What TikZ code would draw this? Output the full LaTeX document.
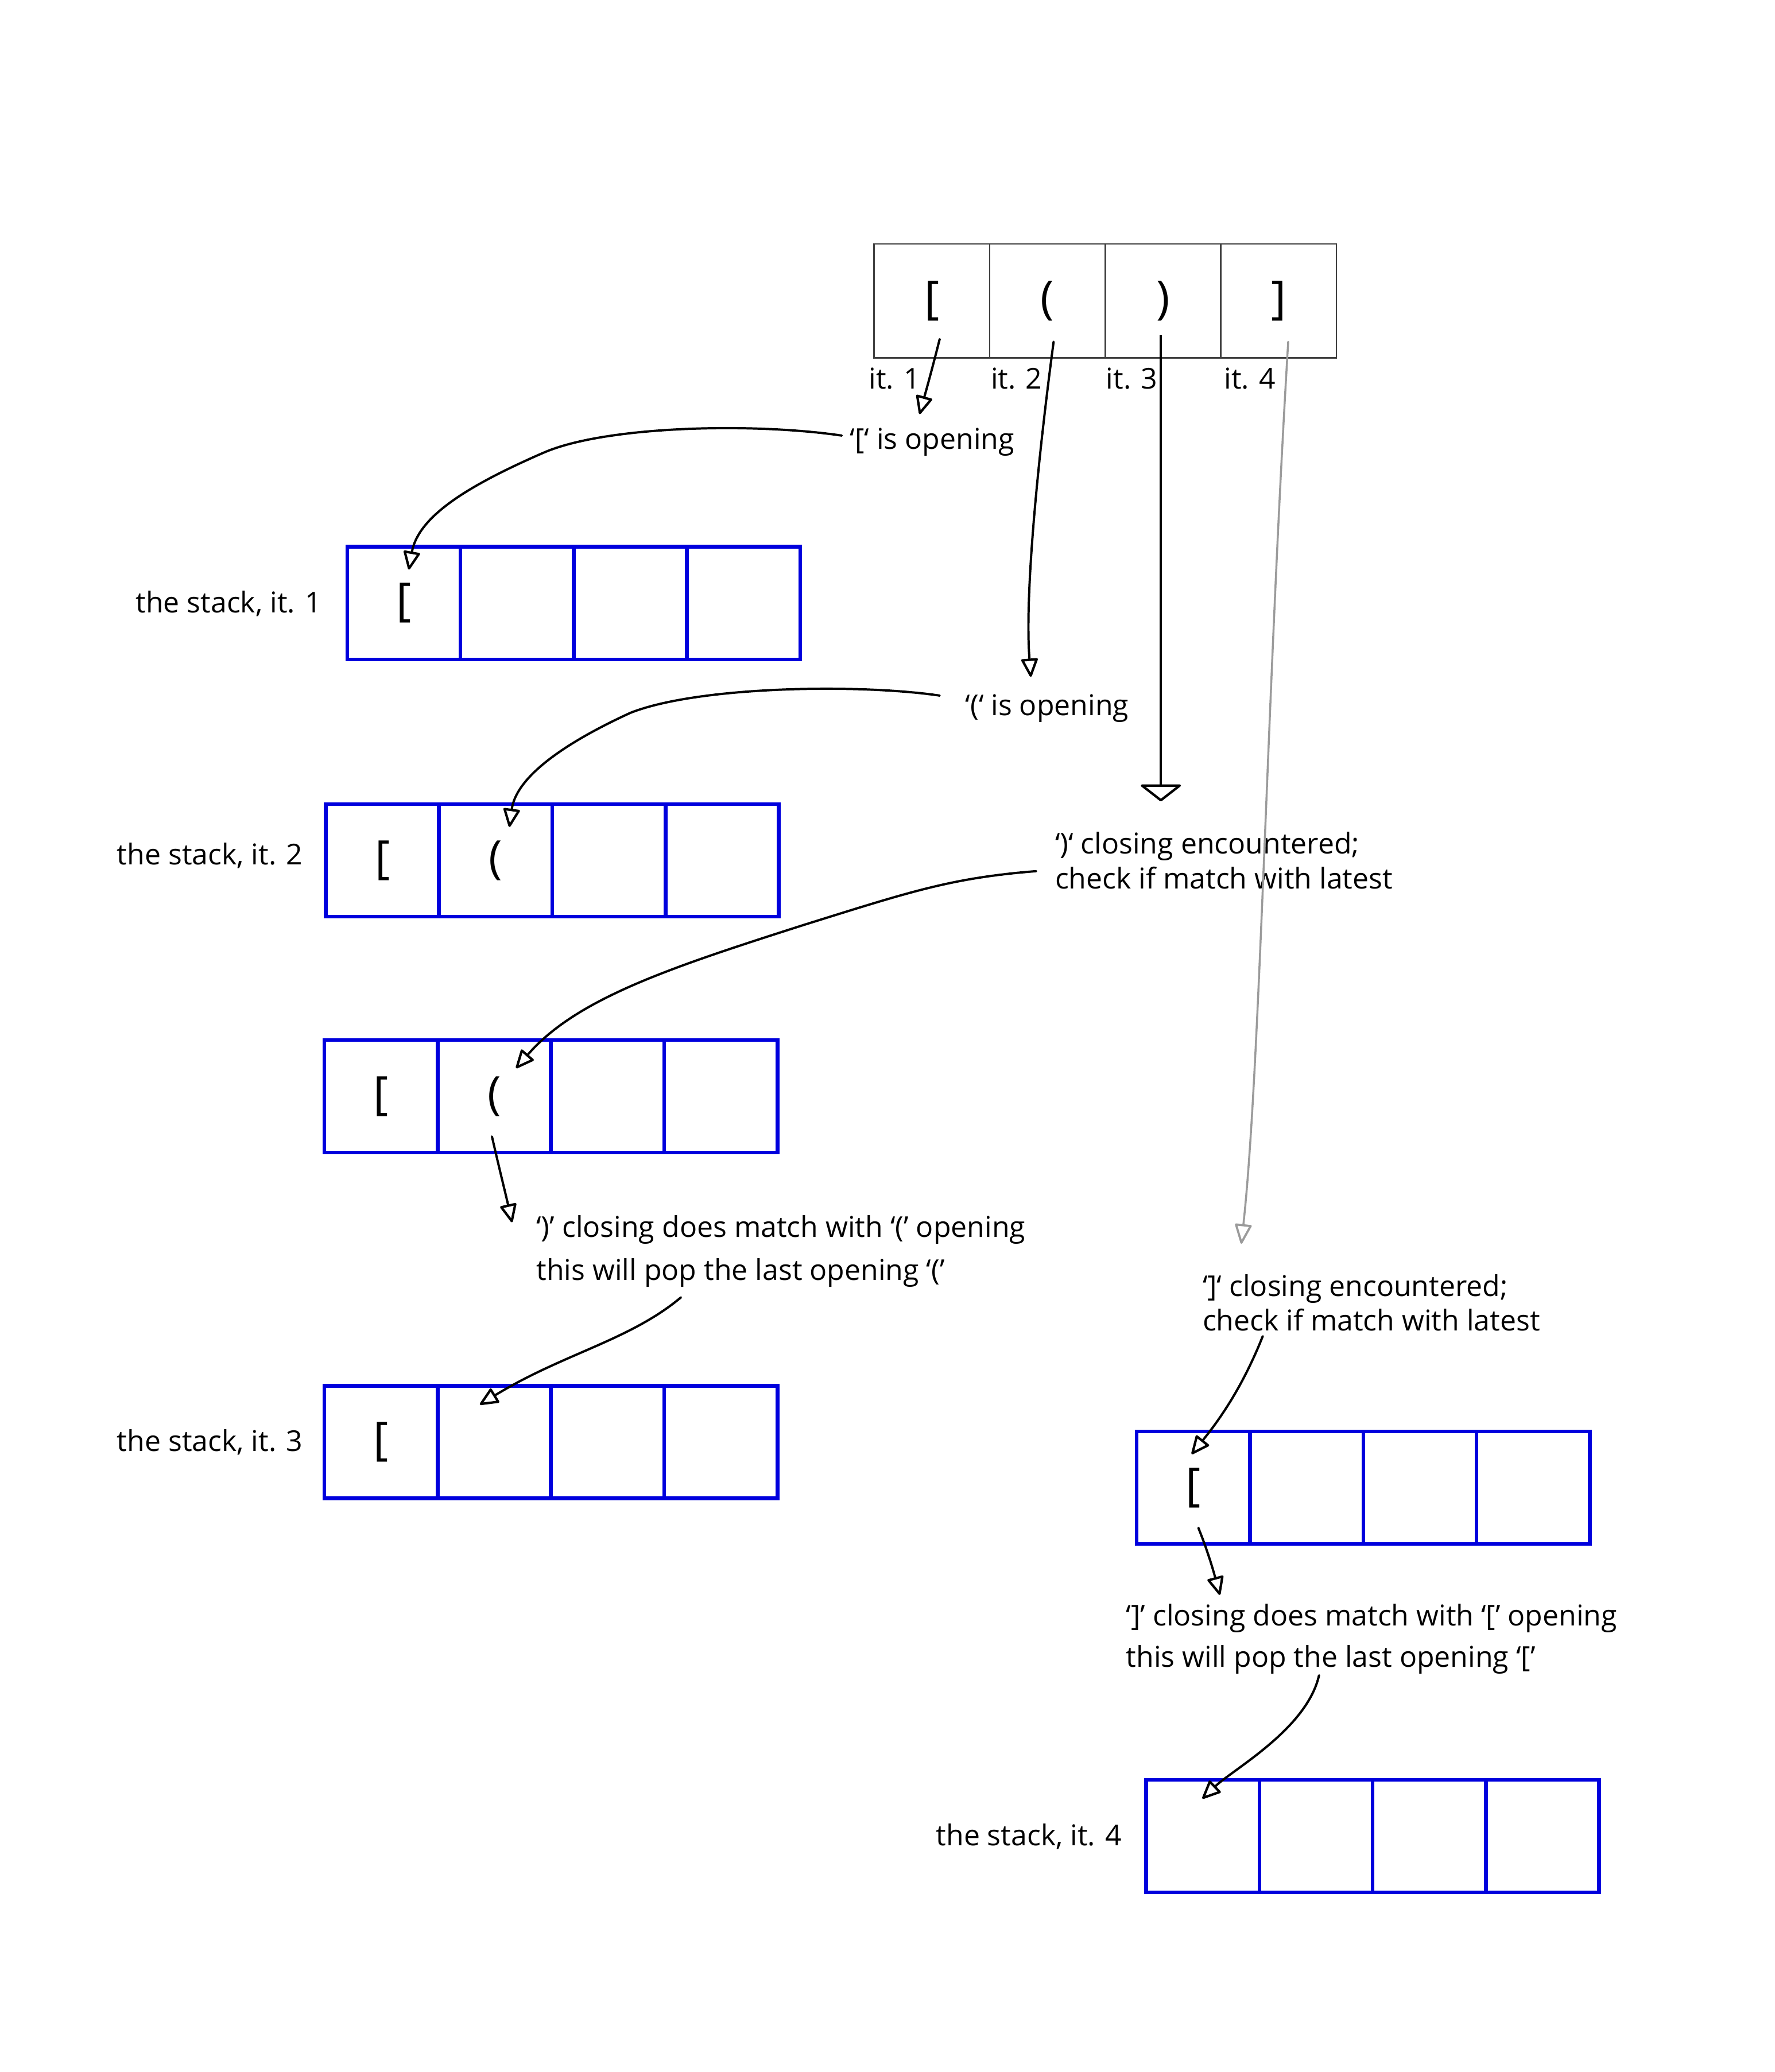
\documentclass[tikz,border=0pt]{standalone}
\usepackage{fontspec}
\setmainfont{Open Sans}
\usetikzlibrary{arrows.meta}
\definecolor{stackblue}{RGB}{0,0,221}
\definecolor{arrowgray}{RGB}{155,155,155}
\begin{document}
\begin{tikzpicture}[x=1pt,y=-1pt,
  cell/.style={draw=stackblue,line width=2.8pt,minimum width=84.5pt,minimum height=84pt,inner sep=0pt,font=\fontsize{34}{40}\selectfont},
  topcell/.style={draw=black!75,line width=1pt,minimum width=86.25pt,minimum height=85pt,inner sep=0pt,font=\fontsize{34}{40}\selectfont},
  lbl/.style={inner sep=0pt,font=\fontsize{21.4}{26}\selectfont},
  arr/.style={line width=1.7pt,line cap=round,-{Triangle[open,length=15pt,width=13pt,line width=1.8pt,round]}},
  bigarr/.style={line width=1.7pt,-{Triangle[open,length=13pt,width=33pt,line width=1.8pt,round]}},
  grayarr/.style={draw=arrowgray,line width=1.5pt,line cap=round,-{Triangle[open,length=16pt,width=13pt,line width=1.6pt,round]}},
]
\useasboundingbox (0,0) rectangle (1324,1546);

% input sequence
\node[topcell] (t1) at (695.1,224.5) {[};
\node[topcell] (t2) at (781.4,224.5) {(};
\node[topcell] (t3) at (867.6,224.5) {)};
\node[topcell] (t4) at (953.9,224.5) {]};
\node[lbl,anchor=base west] (i1) at (648,290) {it. 1};
\node[lbl,anchor=base west] (i2) at (739,290) {it. 2};
\node[lbl,anchor=base west] (i3) at (825,290) {it. 3};
\node[lbl,anchor=base west] (i4) at (913,290) {it. 4};

% stack it. 1
\node[cell] (a1) at (301.25,450) {[};
\node[cell] (a2) at (385.75,450) {};
\node[cell] (a3) at (470.25,450) {};
\node[cell] (a4) at (554.75,450) {};
\node[lbl,anchor=base east] (la) at (240,457) {the stack, it. 1};

% stack it. 2
\node[cell] (b1) at (285.25,642) {[};
\node[cell] (b2) at (369.75,642) {(};
\node[cell] (b3) at (454.25,642) {};
\node[cell] (b4) at (538.75,642) {};
\node[lbl,anchor=base east] (lb) at (226,645) {the stack, it. 2};

% check stack
\node[cell] (c1) at (284.25,818) {[};
\node[cell] (c2) at (368.75,818) {(};
\node[cell] (c3) at (453.25,818) {};
\node[cell] (c4) at (537.75,818) {};

% stack it. 3
\node[cell] (d1) at (284.25,1076) {[};
\node[cell] (d2) at (368.75,1076) {};
\node[cell] (d3) at (453.25,1076) {};
\node[cell] (d4) at (537.75,1076) {};
\node[lbl,anchor=base east] (ld) at (226,1083) {the stack, it. 3};

% right check stack
\node[cell] (e1) at (890.25,1110) {[};
\node[cell] (e2) at (974.75,1110) {};
\node[cell] (e3) at (1059.25,1110) {};
\node[cell] (e4) at (1143.75,1110) {};

% stack it. 4
\node[cell] (f1) at (897.25,1370) {};
\node[cell] (f2) at (981.75,1370) {};
\node[cell] (f3) at (1066.25,1370) {};
\node[cell] (f4) at (1150.75,1370) {};
\node[lbl,anchor=base east] (lf) at (837,1377) {the stack, it. 4};

% annotations
\node[lbl,anchor=base west] (n1) at (634,335) {‘[‘ is opening};
\node[lbl,anchor=base west] (n2) at (720,534) {‘(‘ is opening};
\node[lbl,anchor=base west] (n3a) at (787,637) {‘)‘ closing encountered;};
\node[lbl,anchor=base west] (n3b) at (787,663) {check if match with latest};
\node[lbl,anchor=base west] (n4a) at (400,923) {‘)’ closing does match with ‘(’ opening};
\node[lbl,anchor=base west] (n4b) at (400,955) {this will pop the last opening ‘(’};
\node[lbl,anchor=base west] (n5a) at (897,967) {‘]‘ closing encountered;};
\node[lbl,anchor=base west] (n5b) at (897,993) {check if match with latest};
\node[lbl,anchor=base west] (n6a) at (840,1213) {‘]’ closing does match with ‘[’ opening};
\node[lbl,anchor=base west] (n6b) at (840,1244) {this will pop the last opening ‘[’};

% arrow end points
\coordinate (p1s) at (701,253);  \coordinate (p1e) at (686,309);
\coordinate (p2s) at (786,255);  \coordinate (p2e) at (769,505);
\coordinate (p3s) at (866,250);  \coordinate (p3e) at (866,598);
\coordinate (p4s) at (961,255);  \coordinate (p4e) at (926,928);
\coordinate (q1s) at (628,325);  \coordinate (q1e) at (305,425);
\coordinate (q2s) at (701,519);  \coordinate (q2e) at (380,617);
\coordinate (q3s) at (773,650);  \coordinate (q3e) at (385,797);
\coordinate (q4s) at (367,848);  \coordinate (q4e) at (382,912);
\coordinate (q5s) at (508,968);  \coordinate (q5e) at (358,1048);
\coordinate (q6s) at (942,997);  \coordinate (q6e) at (889,1085);
\coordinate (q7s) at (894,1140); \coordinate (q7e) at (910,1190);
\coordinate (q8s) at (984,1250); \coordinate (q8e) at (897,1342);

\draw[arr] (p1s) .. controls (696,273) and (691,291) .. (p1e);
\draw[arr] (p2s) .. controls (776,330) and (764,440) .. (p2e);
\draw[bigarr] (p3s) -- (p3e);
\draw[grayarr] (p4s) .. controls (945,520) and (940,800) .. (p4e);

\draw[arr] (q1s) .. controls (560,315) and (450,318) .. (405,338)
               .. controls (350,362) and (312,385) .. (q1e);
\draw[arr] (q2s) .. controls (640,510) and (520,512) .. (470,532)
               .. controls (420,555) and (385,580) .. (q2e);
\draw[arr] (q3s) .. controls (710,655) and (680,665) .. (600,690)
               .. controls (500,722) and (430,745) .. (q3e);
\draw[arr] (q4s) .. controls (372,870) and (377,890) .. (q4e);
\draw[arr] (q5s) .. controls (470,1000) and (420,1010) .. (q5e);
\draw[arr] (q6s) .. controls (925,1040) and (905,1065) .. (q6e);
\draw[arr] (q7s) .. controls (902,1160) and (906,1175) .. (q7e);
\draw[arr] (q8s) .. controls (975,1290) and (920,1320) .. (q8e);
\end{tikzpicture}
\end{document}
